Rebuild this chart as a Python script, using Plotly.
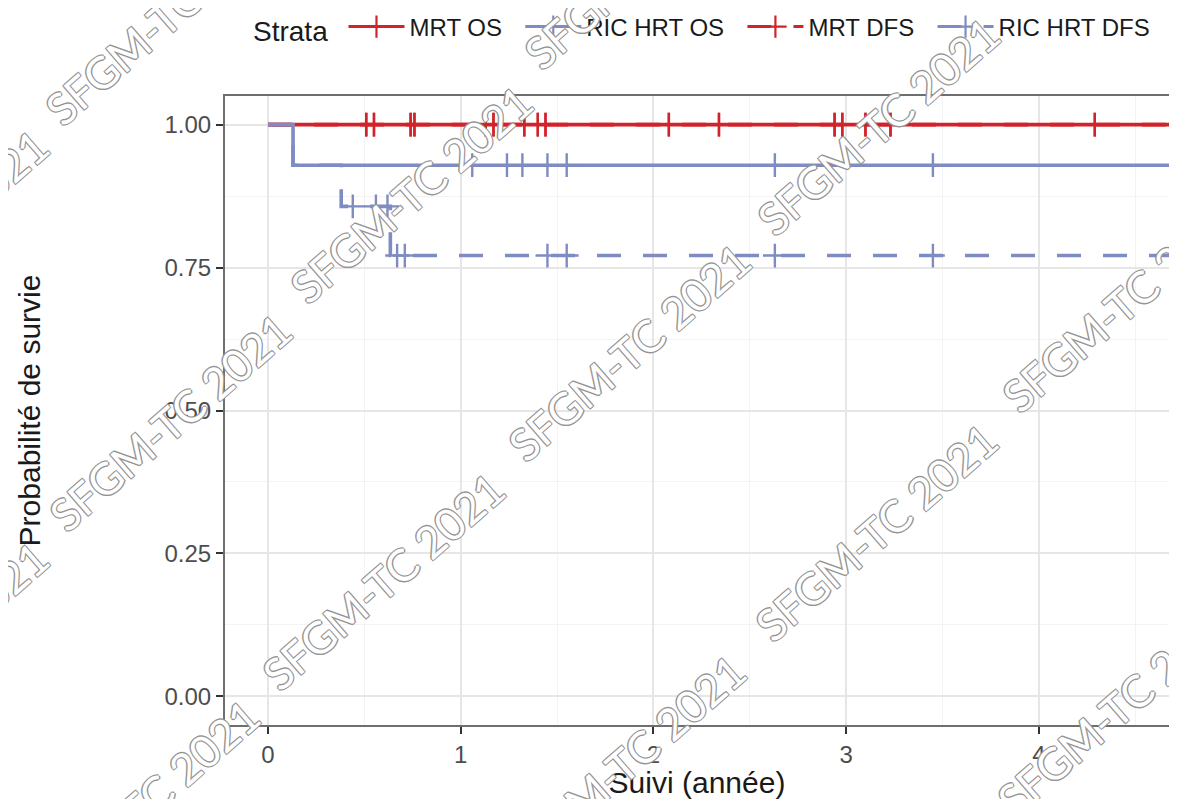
import plotly.graph_objects as go

# ---------------- data ----------------
strata = ["MRT OS", "RIC HRT OS", "MRT DFS", "RIC HRT DFS"]
red = "#D2232A"
blue = "#7F8BC3"

# Kaplan-Meier steps (time in years, survival probability)
mrt_os_times = [0.0]
mrt_os_surv = [1.0]
ric_os_times = [0.0, 0.13]
ric_os_surv = [1.0, 0.929]
mrt_dfs_times = [0.0]
mrt_dfs_surv = [1.0]
ric_dfs_times = [0.0, 0.13, 0.38, 0.635]
ric_dfs_surv = [1.0, 0.929, 0.857, 0.771]
followup_end = 4.75

# censoring times
mrt_os_censor = [0.51, 0.55, 0.74, 0.76, 1.13, 1.17, 1.33, 1.40, 1.44,
                 2.08, 2.34, 2.94, 2.98, 3.10, 3.23, 4.29]
mrt_dfs_censor = [0.51, 0.55, 0.74, 0.76, 1.13, 1.17, 1.33, 1.40, 1.44,
                  2.08, 2.34, 2.94, 2.98, 3.10, 3.23, 4.29]
ric_os_censor = [1.06, 1.24, 1.32, 1.45, 1.55, 2.63, 3.45]
ric_dfs_censor = [0.44, 0.56, 0.62, 0.67, 0.71, 1.45, 1.55, 2.63, 3.45]

x_ticks = [0, 1, 2, 3, 4]
y_ticks = [0, 0.25, 0.5, 0.75, 1.0]
y_ticklabels = ["0.00", "0.25", "0.50", "0.75", "1.00"]

watermark = "SFGM-TC 2021"
wm_centers_px = [(166, 16), (645, -40), (-73, 238), (411, 194), (878, 126),
                 (170, 422), (629, 352), (1123, 303), (-73, 650), (383, 581),
                 (876, 532), (138, 808), (624, 763), (1118, 707)]

series = [
    ("MRT OS", mrt_os_times, mrt_os_surv, mrt_os_censor, red, "solid"),
    ("RIC HRT OS", ric_os_times, ric_os_surv, ric_os_censor, blue, "solid"),
    ("MRT DFS", mrt_dfs_times, mrt_dfs_surv, mrt_dfs_censor, red, "24px,22px"),
    ("RIC HRT DFS", ric_dfs_times, ric_dfs_surv, ric_dfs_censor, blue, "24px,22px"),
]


def surv_at(times, surv, t):
    v = surv[0]
    for ti, si in zip(times, surv):
        if ti <= t:
            v = si
    return v


fig = go.Figure()

# step curves
for name, times, surv, cens, col, dash in series:
    fig.add_trace(go.Scatter(
        x=list(times) + [followup_end], y=list(surv) + [surv[-1]],
        mode="lines", line=dict(color=col, width=3.6, dash=dash, shape="hv"),
        showlegend=False, hoverinfo="skip"))

# censor marks
for name, times, surv, cens, col, dash in series:
    fig.add_trace(go.Scatter(
        x=cens, y=[surv_at(times, surv, t) for t in cens],
        mode="markers",
        marker=dict(symbol="cross-thin", size=17, line=dict(color=col, width=2.4)),
        showlegend=False, hoverinfo="skip"))

# legend entries
for name, times, surv, cens, col, dash in series:
    fig.add_trace(go.Scatter(
        x=[None], y=[None], mode="lines+markers", name=name + "\u00a0\u00a0",
        line=dict(color=col, width=3, dash=dash),
        marker=dict(symbol="cross-thin", size=17, line=dict(color=col, width=2.2))))

# geometry (page body has an 8px margin, so the figure is 8px smaller)
OFF = 8
W, H = 1177 - OFF, 799 - OFF
L, R, T, B = 225 - OFF, 1169 - OFF, 96 - OFF, 725 - OFF

annotations = []
for cx, cy in wm_centers_px:
    annotations.append(dict(
        text=watermark, xref="paper", yref="paper",
        x=(cx - OFF - L) / (R - L), y=(B - (cy - OFF)) / (B - T),
        xanchor="center", yanchor="middle", showarrow=False, textangle=-41,
        font=dict(family="Lato", size=44, color="white",
                  shadow="-1px -1px 0 #949494, 1px -1px 0 #949494, -1px 1px 0 #949494, 1px 1px 0 #949494")))

fig.update_layout(
    width=W, height=H,
    margin=dict(l=L, r=W - R, t=T, b=H - B, autoexpand=False),
    paper_bgcolor="white", plot_bgcolor="white",
    font=dict(family="Liberation Sans", color="#1A1A1A"),
    showlegend=True,
    legend=dict(orientation="h", x=(243 - L) / (R - L), xanchor="left",
                y=(B - 20) / (B - T), yanchor="middle",
                font=dict(size=24, color="#1A1A1A"),
                title=dict(text="Strata\u00a0", font=dict(size=28, color="#1A1A1A")),
                bgcolor="rgba(0,0,0,0)", itemwidth=56, tracegroupgap=0),
    annotations=annotations,
    xaxis=dict(
        range=[-0.223, 4.675], tickvals=x_ticks, ticktext=[str(v) for v in x_ticks],
        ticks="outside", ticklen=7, tickwidth=1.5, tickcolor="#333333",
        tickfont=dict(size=24, color="#4D4D4D"),
        showgrid=True, gridcolor="#E6E6E6", gridwidth=1.5,
        minor=dict(dtick=0.5, tick0=0, showgrid=True, gridcolor="#F3F3F3", gridwidth=1),
        showline=True, linecolor="#6E6E6E", linewidth=2, mirror=True,
        zeroline=False,
        title=dict(text="Suivi (année)", font=dict(size=30, color="#1A1A1A"), standoff=16),
    ),
    yaxis=dict(
        range=[-0.05, 1.05], tickvals=y_ticks, ticktext=y_ticklabels,
        ticks="outside", ticklen=7, tickwidth=1.5, tickcolor="#333333",
        tickfont=dict(size=24, color="#4D4D4D"),
        showgrid=True, gridcolor="#E6E6E6", gridwidth=1.5,
        minor=dict(dtick=0.125, tick0=0, showgrid=True, gridcolor="#F3F3F3", gridwidth=1),
        showline=True, linecolor="#6E6E6E", linewidth=2, mirror=True,
        zeroline=False,
        title=dict(text="Probabilité de survie", font=dict(size=30, color="#1A1A1A"), standoff=115),
    ),
)

fig.write_html("out.html")
